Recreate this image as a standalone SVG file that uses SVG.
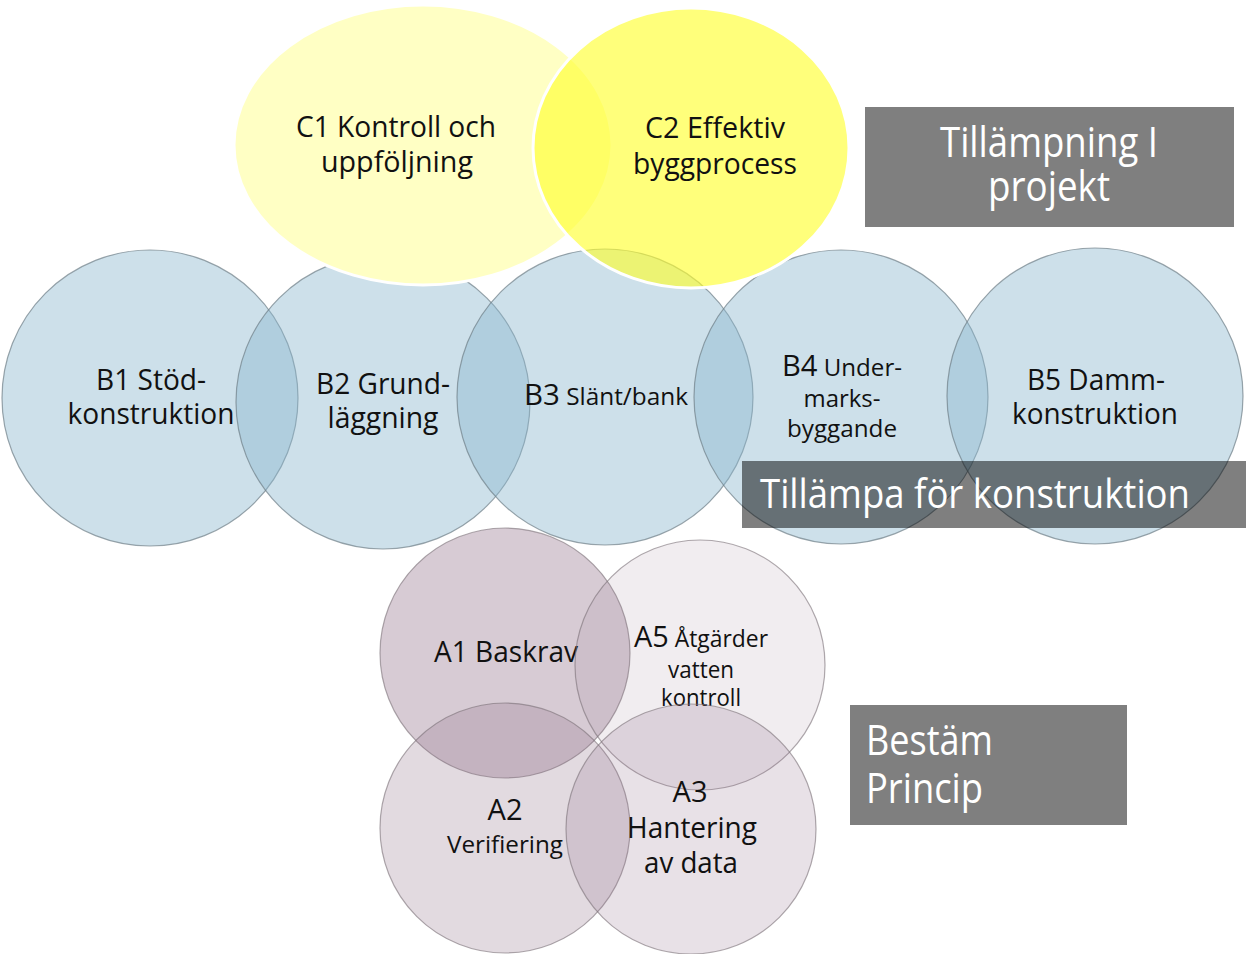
<svg xmlns="http://www.w3.org/2000/svg" width="1246" height="954" viewBox="0 0 1246 954">
<defs>
<style>
.b{fill:#88b5cd;fill-opacity:0.42;stroke:#6f7f88;stroke-opacity:0.7;stroke-width:1.2}
.a{fill:#8c6a85;stroke:#7a6f77;stroke-opacity:0.6;stroke-width:1.2}
.t{font-family:"Open Sans","Noto Sans",sans-serif;fill:#111;text-anchor:middle}
.w{font-family:"Open Sans","Noto Sans",sans-serif;fill:#fff}
.box{fill:#000;fill-opacity:0.5}
</style>
</defs>
<rect width="1246" height="954" fill="#fff"/>
<g id="connectors"/>
<g id="B1"><circle class="b" cx="150" cy="398" r="148"/>
<text class="t" font-size="30"><tspan x="151" y="390" textLength="110" lengthAdjust="spacingAndGlyphs">B1 Stöd-</tspan><tspan x="151" y="424" textLength="167" lengthAdjust="spacingAndGlyphs">konstruktion</tspan></text></g>
<g id="B2"><circle class="b" cx="383" cy="402" r="147"/>
<text class="t" font-size="30"><tspan x="383" y="394" textLength="134" lengthAdjust="spacingAndGlyphs">B2 Grund-</tspan><tspan x="383" y="428" textLength="111" lengthAdjust="spacingAndGlyphs">läggning</tspan></text></g>
<g id="B3"><circle class="b" cx="605" cy="397" r="148"/>
<text class="t" font-size="24" x="606" y="405" textLength="164" lengthAdjust="spacingAndGlyphs"><tspan font-size="29">B3</tspan> Slänt/bank</text></g>
<g id="B4"><circle class="b" cx="841" cy="397" r="147"/>
<text class="t" font-size="24"><tspan x="842" y="376" textLength="120" lengthAdjust="spacingAndGlyphs"><tspan font-size="29">B4</tspan> Under-</tspan><tspan x="842" y="407" textLength="77" lengthAdjust="spacingAndGlyphs">marks-</tspan><tspan x="842" y="437" textLength="110" lengthAdjust="spacingAndGlyphs">byggande</tspan></text></g>
<g id="B5"><circle class="b" cx="1095" cy="396" r="148"/>
<text class="t" font-size="30"><tspan x="1096" y="390" textLength="138" lengthAdjust="spacingAndGlyphs">B5 Damm-</tspan><tspan x="1095" y="424" textLength="166" lengthAdjust="spacingAndGlyphs">konstruktion</tspan></text></g>
<g id="C1"><ellipse cx="423" cy="145" rx="189" ry="140" fill="#ffffc4" stroke="#fff" stroke-width="3"/>
<text class="t" font-size="30"><tspan x="396" y="137" textLength="200" lengthAdjust="spacingAndGlyphs">C1 Kontroll och</tspan><tspan x="397" y="172" textLength="152" lengthAdjust="spacingAndGlyphs">uppföljning</tspan></text></g>
<g id="C2"><ellipse cx="691" cy="148" rx="158" ry="140" fill="#ffff2a" fill-opacity="0.62" stroke="#fff" stroke-width="3"/>
<text class="t" font-size="30"><tspan x="715" y="138" textLength="140" lengthAdjust="spacingAndGlyphs">C2 Effektiv</tspan><tspan x="715" y="174" textLength="164" lengthAdjust="spacingAndGlyphs">byggprocess</tspan></text></g>
<g id="tillampning"><rect x="865" y="107" width="369" height="120" fill="#7f7f7f"/>
<text class="w" font-size="42" text-anchor="middle"><tspan x="1049" y="157" textLength="218" lengthAdjust="spacingAndGlyphs">Tillämpning I</tspan><tspan x="1049" y="201" textLength="122" lengthAdjust="spacingAndGlyphs">projekt</tspan></text></g>
<g id="tillampa"><rect class="box" x="742" y="461" width="504" height="67"/>
<text class="w" font-size="40" x="760" y="508" textLength="430" lengthAdjust="spacingAndGlyphs">Tillämpa för konstruktion</text></g>
<g id="A1"><circle class="a" cx="505" cy="653" r="125" fill-opacity="0.35"/>
<text class="t" font-size="29" x="506" y="662" textLength="144" lengthAdjust="spacingAndGlyphs">A1 Baskrav</text></g>
<g id="A5"><circle class="a" cx="700" cy="665" r="125" fill-opacity="0.12"/>
<text class="t" font-size="23"><tspan x="701" y="647" textLength="134" lengthAdjust="spacingAndGlyphs"><tspan font-size="29">A5</tspan> Åtgärder</tspan><tspan x="701" y="678" textLength="66" lengthAdjust="spacingAndGlyphs">vatten</tspan><tspan x="701" y="706" textLength="80" lengthAdjust="spacingAndGlyphs">kontroll</tspan></text></g>
<g id="A2"><circle class="a" cx="505" cy="828" r="125" fill-opacity="0.25"/>
<text class="t" font-size="29"><tspan x="505" y="820" textLength="35" lengthAdjust="spacingAndGlyphs">A2</tspan><tspan x="505" y="853" font-size="24" textLength="116" lengthAdjust="spacingAndGlyphs">Verifiering</tspan></text></g>
<g id="A3"><circle class="a" cx="691" cy="829" r="125" fill-opacity="0.2"/>
<text class="t" font-size="29"><tspan x="690" y="802" textLength="35" lengthAdjust="spacingAndGlyphs">A3</tspan><tspan x="692" y="838" textLength="130" lengthAdjust="spacingAndGlyphs">Hantering</tspan><tspan x="691" y="873" textLength="94" lengthAdjust="spacingAndGlyphs">av data</tspan></text></g>
<g id="bestam"><rect x="850" y="705" width="277" height="120" fill="#7f7f7f"/>
<text class="w" font-size="42"><tspan x="866" y="755" textLength="127" lengthAdjust="spacingAndGlyphs">Bestäm</tspan><tspan x="866" y="803" textLength="117" lengthAdjust="spacingAndGlyphs">Princip</tspan></text></g>
</svg>
